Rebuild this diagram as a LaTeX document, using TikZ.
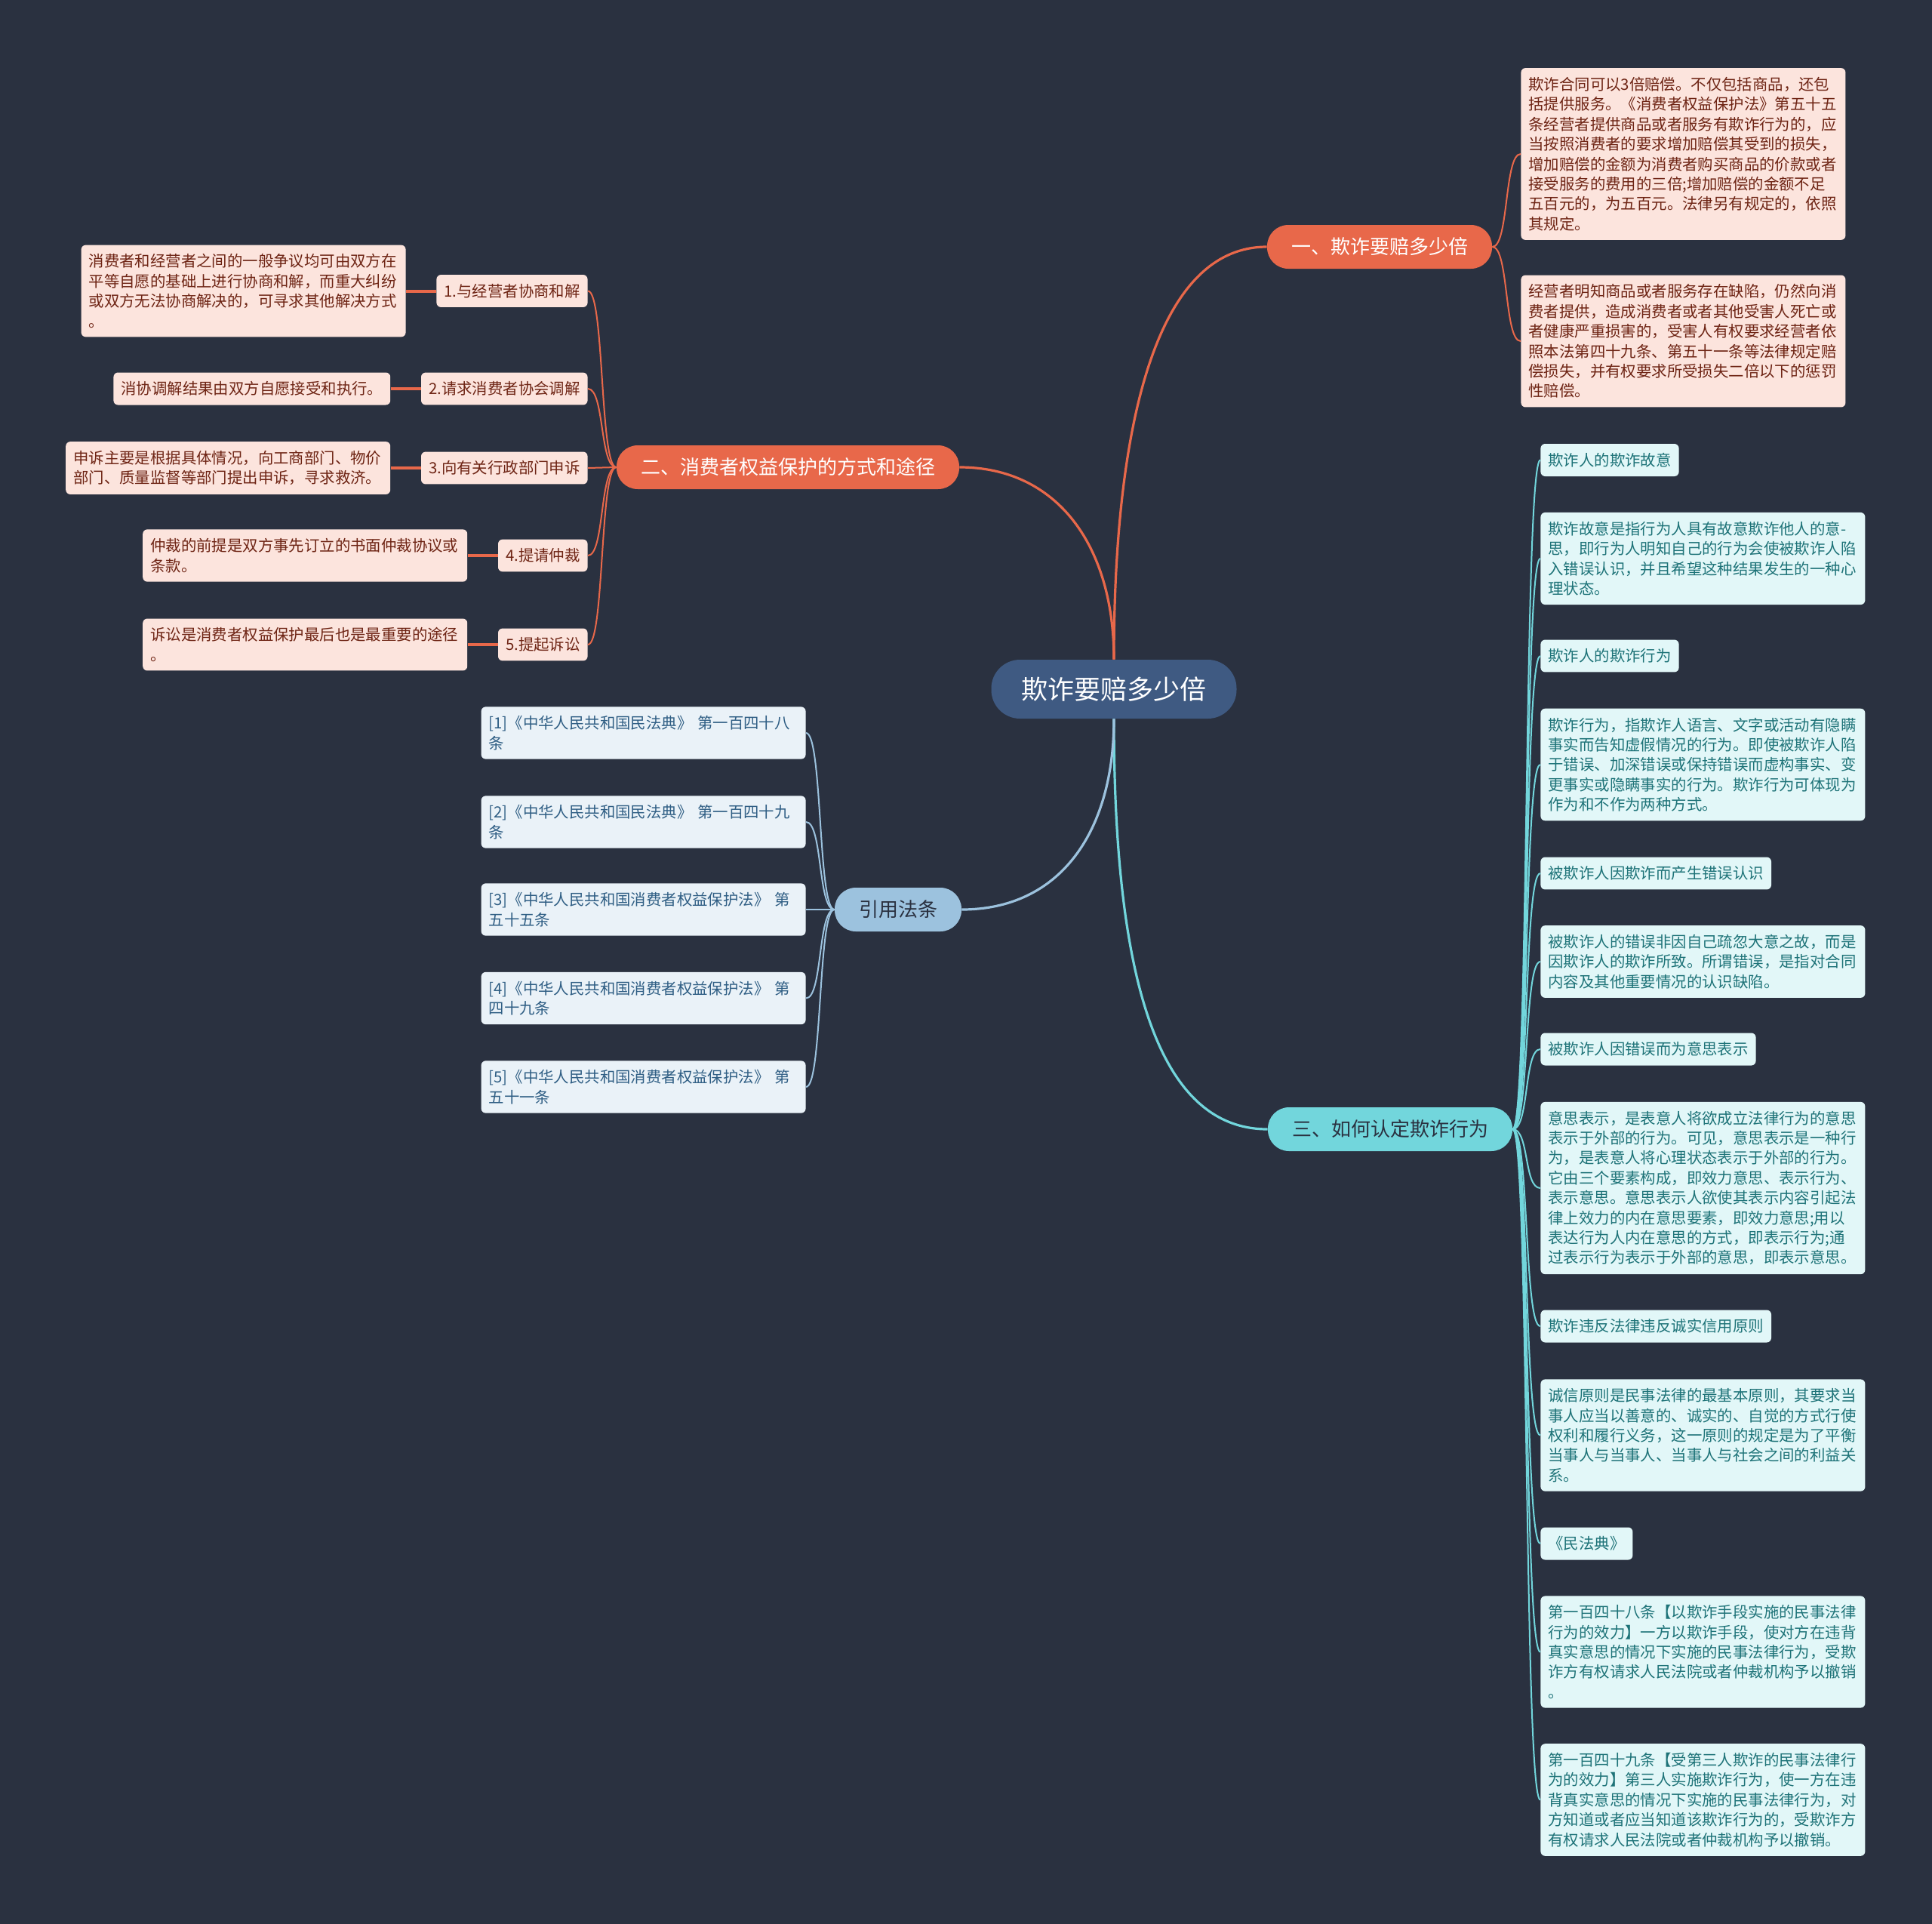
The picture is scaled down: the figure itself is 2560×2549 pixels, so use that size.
\documentclass[tikz,border=0pt]{standalone}
\usepackage{fontspec}
\setmainfont{Noto Sans CJK SC}
\usetikzlibrary{positioning}
\definecolor{mapbg}{HTML}{2A3140}
\definecolor{maproot}{HTML}{3F5A82}
\definecolor{maporange}{HTML}{E8684A}
\definecolor{orangeleaf}{HTML}{FCE4DD}
\definecolor{orangetext}{HTML}{6E2414}
\definecolor{mapcyan}{HTML}{72D6DC}
\definecolor{cyanleaf}{HTML}{E2F7F8}
\definecolor{cyantext}{HTML}{1E7378}
\definecolor{mapblue}{HTML}{9CC2DE}
\definecolor{blueleaf}{HTML}{EAF2F8}
\definecolor{bluetext}{HTML}{2F5E84}
\newcommand\leaffont{\fontsize{10.2pt}{13.2pt}\selectfont}
\tikzset{
  rootnode/.style={rectangle,rounded corners=19pt,fill=maproot,text=white,font=\fontsize{17.5pt}{21pt}\selectfont,inner xsep=20pt,minimum height=39pt},
  branchred/.style={rectangle,rounded corners=14pt,fill=maporange,text=white,font=\fontsize{13pt}{16pt}\selectfont,inner xsep=16pt,minimum height=29pt},
  branchcyan/.style={branchred,fill=mapcyan,text=mapbg},
  branchblue/.style={branchred,fill=mapblue,text=mapbg},
  leafred/.style={rectangle,rounded corners=3pt,fill=orangeleaf,text=orangetext,font=\leaffont,align=left,inner xsep=5pt,inner ysep=6pt},
  leafcyan/.style={leafred,fill=cyanleaf,text=cyantext},
  leafblue/.style={leafred,fill=blueleaf,text=bluetext},
  wide/.style={text width=205pt},
  trunkred/.style={draw=maporange,line width=1.6pt},
  trunkcyan/.style={draw=mapcyan,line width=1.6pt},
  trunkblue/.style={draw=mapblue,line width=1.6pt},
  twigred/.style={draw=maporange,line width=1pt},
  twigcyan/.style={draw=mapcyan,line width=1pt},
  twigblue/.style={draw=mapblue,line width=1pt},
  stemred/.style={draw=maporange,line width=2pt}
}
\begin{document}
\begin{tikzpicture}[x=0.5pt,y=-0.5pt]
\fill[mapbg] (0,0) rectangle (2560,2549);
% centre and main branches
\node[rootnode] (root) at (1476,913) {欺诈要赔多少倍};
\node[branchred] (b1) at (1828,327) {一、欺诈要赔多少倍};
\node[branchred] (b2) at (1044,619) {二、消费者权益保护的方式和途径};
\node[branchcyan] (b3) at (1842,1496) {三、如何认定欺诈行为};
\node[branchblue] (b4) at (1190,1205) {引用法条};
\draw[trunkred] (root.north) .. controls +(0,-300) and +(-150,0) .. (b1.west);
\draw[trunkred] (root.north) .. controls +(0,-150) and +(130,0) .. (b2.east);
\draw[trunkcyan] (root.south) .. controls +(0,330) and +(-150,0) .. (b3.west);
\draw[trunkblue] (root.south) .. controls +(0,150) and +(130,0) .. (b4.east);
% branch 1
\node[leafred,wide,anchor=west] (p1) at (2015,204) {欺诈合同可以3倍赔偿。不仅包括商品，还包\\括提供服务。《消费者权益保护法》第五十五\\条经营者提供商品或者服务有欺诈行为的，应\\当按照消费者的要求增加赔偿其受到的损失，\\增加赔偿的金额为消费者购买商品的价款或者\\接受服务的费用的三倍;增加赔偿的金额不足\\五百元的，为五百元。法律另有规定的，依照\\其规定。};
\node[leafred,wide,anchor=west] (p2) at (2015,452) {经营者明知商品或者服务存在缺陷，仍然向消\\费者提供，造成消费者或者其他受害人死亡或\\者健康严重损害的，受害人有权要求经营者依\\照本法第四十九条、第五十一条等法律规定赔\\偿损失，并有权要求所受损失二倍以下的惩罚\\性赔偿。};
\draw[twigred] (b1.east) .. controls +(22,0) and +(-22,0) .. (p1.west);
\draw[twigred] (b1.east) .. controls +(22,0) and +(-22,0) .. (p2.west);
% branch 2
\node[leafred,anchor=east] (s1) at (779,385.5) {1.与经营者协商和解};
\node[leafred,anchor=east] (s2) at (779,515) {2.请求消费者协会调解};
\node[leafred,anchor=east] (s3) at (779,620) {3.向有关行政部门申诉};
\node[leafred,anchor=east] (s4) at (779,736) {4.提请仲裁};
\node[leafred,anchor=east] (s5) at (779,854) {5.提起诉讼};
\node[leafred,wide,left=20pt of s1] (w1) {消费者和经营者之间的一般争议均可由双方在\\平等自愿的基础上进行协商和解，而重大纠纷\\或双方无法协商解决的，可寻求其他解决方式\\。};
\node[leafred,left=20pt of s2] (w2) {消协调解结果由双方自愿接受和执行。};
\node[leafred,wide,left=20pt of s3] (w3) {申诉主要是根据具体情况，向工商部门、物价\\部门、质量监督等部门提出申诉，寻求救济。};
\node[leafred,wide,left=20pt of s4] (w4) {仲裁的前提是双方事先订立的书面仲裁协议或\\条款。};
\node[leafred,wide,left=20pt of s5] (w5) {诉讼是消费者权益保护最后也是最重要的途径\\。};
\draw[twigred] (b2.west) .. controls +(-22,0) and +(22,0) .. (s1.east);
\draw[twigred] (b2.west) .. controls +(-22,0) and +(22,0) .. (s2.east);
\draw[twigred] (b2.west) -- (s3.east);
\draw[twigred] (b2.west) .. controls +(-22,0) and +(22,0) .. (s4.east);
\draw[twigred] (b2.west) .. controls +(-22,0) and +(22,0) .. (s5.east);
\draw[stemred] (w1) -- (s1);
\draw[stemred] (w2) -- (s2);
\draw[stemred] (w3) -- (s3);
\draw[stemred] (w4) -- (s4);
\draw[stemred] (w5) -- (s5);
% branch 3
\node[leafcyan,anchor=west] (c1) at (2041,609.5) {欺诈人的欺诈故意};
\node[leafcyan,wide,anchor=west] (c2) at (2041,740) {欺诈故意是指行为人具有故意欺诈他人的意-\\思，即行为人明知自己的行为会使被欺诈人陷\\入错误认识，并且希望这种结果发生的一种心\\理状态。};
\node[leafcyan,anchor=west] (c3) at (2041,869) {欺诈人的欺诈行为};
\node[leafcyan,wide,anchor=west] (c4) at (2041,1013) {欺诈行为，指欺诈人语言、文字或活动有隐瞒\\事实而告知虚假情况的行为。即使被欺诈人陷\\于错误、加深错误或保持错误而虚构事实、变\\更事实或隐瞒事实的行为。欺诈行为可体现为\\作为和不作为两种方式。};
\node[leafcyan,anchor=west] (c5) at (2041,1157) {被欺诈人因欺诈而产生错误认识};
\node[leafcyan,wide,anchor=west] (c6) at (2041,1274) {被欺诈人的错误非因自己疏忽大意之故，而是\\因欺诈人的欺诈所致。所谓错误，是指对合同\\内容及其他重要情况的认识缺陷。};
\node[leafcyan,anchor=west] (c7) at (2041,1390) {被欺诈人因错误而为意思表示};
\node[leafcyan,wide,anchor=west] (c8) at (2041,1574) {意思表示，是表意人将欲成立法律行为的意思\\表示于外部的行为。可见，意思表示是一种行\\为，是表意人将心理状态表示于外部的行为。\\它由三个要素构成，即效力意思、表示行为、\\表示意思。意思表示人欲使其表示内容引起法\\律上效力的内在意思要素，即效力意思;用以\\表达行为人内在意思的方式，即表示行为;通\\过表示行为表示于外部的意思，即表示意思。};
\node[leafcyan,anchor=west] (c9) at (2041,1757) {欺诈违反法律违反诚实信用原则};
\node[leafcyan,wide,anchor=west] (c10) at (2041,1901.5) {诚信原则是民事法律的最基本原则，其要求当\\事人应当以善意的、诚实的、自觉的方式行使\\权利和履行义务，这一原则的规定是为了平衡\\当事人与当事人、当事人与社会之间的利益关\\系。};
\node[leafcyan,anchor=west] (c11) at (2041,2045) {《民法典》};
\node[leafcyan,wide,anchor=west] (c12) at (2041,2188.5) {第一百四十八条【以欺诈手段实施的民事法律\\行为的效力】一方以欺诈手段，使对方在违背\\真实意思的情况下实施的民事法律行为，受欺\\诈方有权请求人民法院或者仲裁机构予以撤销\\。};
\node[leafcyan,wide,anchor=west] (c13) at (2041,2384.5) {第一百四十九条【受第三人欺诈的民事法律行\\为的效力】第三人实施欺诈行为，使一方在违\\背真实意思的情况下实施的民事法律行为，对\\方知道或者应当知道该欺诈行为的，受欺诈方\\有权请求人民法院或者仲裁机构予以撤销。};
\foreach \k in {1,...,13}
  \draw[twigcyan] (b3.east) .. controls +(22,0) and +(-22,0) .. (c\k.west);
% branch 4
\node[leafblue,wide,anchor=east] (r1) at (1068,971) {[1]《中华人民共和国民法典》 第一百四十八\\条};
\node[leafblue,wide,anchor=east] (r2) at (1068,1089) {[2]《中华人民共和国民法典》 第一百四十九\\条};
\node[leafblue,wide,anchor=east] (r3) at (1068,1205) {[3]《中华人民共和国消费者权益保护法》 第\\五十五条};
\node[leafblue,wide,anchor=east] (r4) at (1068,1322.5) {[4]《中华人民共和国消费者权益保护法》 第\\四十九条};
\node[leafblue,wide,anchor=east] (r5) at (1068,1440) {[5]《中华人民共和国消费者权益保护法》 第\\五十一条};
\draw[twigblue] (b4.west) .. controls +(-22,0) and +(22,0) .. (r1.east);
\draw[twigblue] (b4.west) .. controls +(-22,0) and +(22,0) .. (r2.east);
\draw[twigblue] (b4.west) -- (r3.east);
\draw[twigblue] (b4.west) .. controls +(-22,0) and +(22,0) .. (r4.east);
\draw[twigblue] (b4.west) .. controls +(-22,0) and +(22,0) .. (r5.east);
\end{tikzpicture}
\end{document}
